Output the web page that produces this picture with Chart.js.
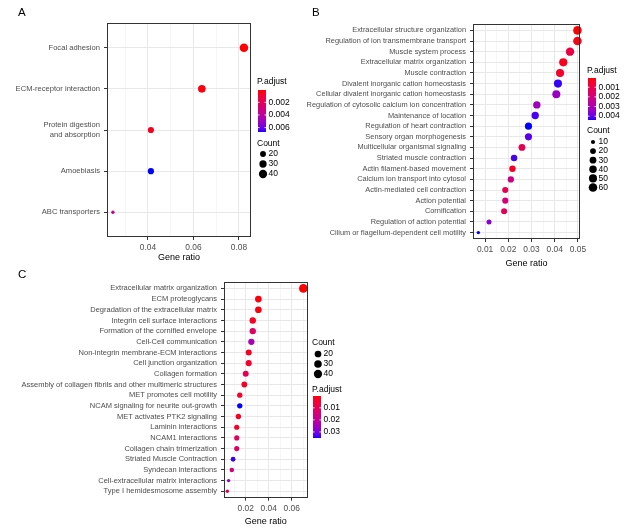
<!DOCTYPE html>
<html>
<head>
<meta charset="utf-8">
<script src="https://cdn.jsdelivr.net/npm/chart.js@4.4.0/dist/chart.umd.min.js"></script>
<style>
  html, body { margin: 0; padding: 0; background: #fff; }
  #wrap { position: relative; width: 624px; height: 530px; overflow: hidden; font-family: "Liberation Sans", Arial, sans-serif; }
  .panel { position: absolute; }
  .tag { position: absolute; font-size: 11.5px; color: #000; line-height: 1; }
</style>
</head>
<body>
<div id="wrap">
  <div class="panel" style="left:0;top:0"><canvas id="chartA" width="310" height="268"></canvas></div>
  <div class="panel" style="left:300px;top:0"><canvas id="chartB" width="324" height="272"></canvas></div>
  <div class="panel" style="left:0;top:265px"><canvas id="chartC" width="400" height="265"></canvas></div>
  <div class="tag" style="left:18px;top:7px">A</div>
  <div class="tag" style="left:312px;top:7px">B</div>
  <div class="tag" style="left:18px;top:269px">C</div>
</div>
<script>
// ---- panel A: KEGG ----
const termsA = ['Focal adhesion', 'ECM-receptor interaction', ['Protein digestion', 'and absorption'], 'Amoebiasis', 'ABC transporters'];
const ratioA = [0.0822, 0.0637, 0.0413, 0.0413, 0.0246];
const countA = [44, 34, 22, 22, 13];
const padjA = [0.00005, 0.0002, 0.0005, 0.0067, 0.0035];
const xLabelsA = ['0.04', '0.06', '0.08'];
const pLabelsA = ['0.002', '0.004', '0.006'];
const countLabelsA = [20, 30, 40];

// ---- panel B: GO ----
const termsB = ['Extracellular structure organization', 'Regulation of ion transmembrane transport', 'Muscle system process',
  'Extracellular matrix organization', 'Muscle contraction', 'Divalent inorganic cation homeostasis',
  'Cellular divalent inorganic cation homeostasis', 'Regulation of cytosolic calcium ion concentration',
  'Maintenance of location', 'Regulation of heart contraction', 'Sensory organ morphogenesis',
  'Multicellular organismal signaling', 'Striated muscle contraction', 'Actin filament-based movement',
  'Calcium ion transport into cytosol', 'Actin-mediated cell contraction', 'Action potential', 'Cornification',
  'Regulation of action potential', 'Cilium or flagellum-dependent cell motility'];
const ratioB = [0.0498, 0.0498, 0.0466, 0.0437, 0.0423, 0.0414, 0.0407, 0.0323, 0.0316, 0.0287,
  0.0287, 0.0259, 0.0225, 0.0218, 0.0211, 0.0187, 0.0187, 0.0182, 0.0117, 0.0071];
const countB = [60, 60, 56, 53, 51, 50, 49, 39, 38, 35, 35, 31, 27, 26, 25, 23, 23, 22, 14, 9];
const padjB = [0.00004, 0.0002, 0.0009, 0.0003, 0.0005, 0.0043, 0.0033, 0.0032, 0.0042, 0.0044,
  0.0041, 0.0012, 0.0042, 0.0004, 0.0022, 0.0012, 0.0019, 0.0013, 0.0036, 0.0044];
const xLabelsB = ['0.01', '0.02', '0.03', '0.04', '0.05'];
const pLabelsB = ['0.001', '0.002', '0.003', '0.004'];
const countLabelsB = [10, 20, 30, 40, 50, 60];

// ---- panel C: Reactome ----
const termsC = ['Extracellular matrix organization', 'ECM proteoglycans', 'Degradation of the extracellular matrix',
  'Integrin cell surface interactions', 'Formation of the cornified envelope', 'Cell-Cell communication',
  'Non-integrin membrane-ECM interactions', 'Cell junction organization', 'Collagen formation',
  'Assembly of collagen fibrils and other multimeric structures', 'MET promotes cell motility',
  'NCAM signaling for neurite out-growth', 'MET activates PTK2 signaling', 'Laminin interactions',
  'NCAM1 interactions', 'Collagen chain trimerization', 'Striated Muscle Contraction', 'Syndecan interactions',
  'Cell-extracellular matrix interactions', 'Type I hemidesmosome assembly'];
const ratioC = [0.0701, 0.0310, 0.0310, 0.0261, 0.0261, 0.0249, 0.0226, 0.0226, 0.0200, 0.0188,
  0.0148, 0.0148, 0.0136, 0.0122, 0.0122, 0.0122, 0.0090, 0.0079, 0.0051, 0.0040];
const countC = [45, 20, 20, 17, 17, 16, 14, 14, 13, 12, 9, 9, 9, 8, 8, 8, 6, 5, 3, 3];
const padjC = [0.0002, 0.001, 0.001, 0.003, 0.012, 0.024, 0.003, 0.004, 0.009, 0.003,
  0.004, 0.035, 0.003, 0.004, 0.011, 0.012, 0.034, 0.015, 0.027, 0.010];
const xLabelsC = ['0.02', '0.04', '0.06'];
const pLabelsC = ['0.01', '0.02', '0.03'];
const countLabelsC = [20, 30, 40];

const FONT = '"Liberation Sans", Arial, sans-serif';

// red -> blue gradient, interpolated in Lab like ggplot does
function toLin(c) { c /= 255; return c <= 0.04045 ? c / 12.92 : Math.pow((c + 0.055) / 1.055, 2.4); }
function fromLin(c) {
  c = c <= 0.0031308 ? 12.92 * c : 1.055 * Math.pow(c, 1 / 2.4) - 0.055;
  return Math.round(Math.max(0, Math.min(1, c)) * 255);
}
function rgbToLab(rgb) {
  const R = toLin(rgb[0]), G = toLin(rgb[1]), B = toLin(rgb[2]);
  const f = t => t > 0.008856 ? Math.cbrt(t) : 7.787 * t + 16 / 116;
  const X = f((0.4124 * R + 0.3576 * G + 0.1805 * B) / 0.95047);
  const Y = f(0.2126 * R + 0.7152 * G + 0.0722 * B);
  const Z = f((0.0193 * R + 0.1192 * G + 0.9505 * B) / 1.08883);
  return [116 * Y - 16, 500 * (X - Y), 200 * (Y - Z)];
}
function labToRgb(lab) {
  const fy = (lab[0] + 16) / 116, fx = lab[1] / 500 + fy, fz = fy - lab[2] / 200;
  const fi = t => { const t3 = t * t * t; return t3 > 0.008856 ? t3 : (t - 16 / 116) / 7.787; };
  const X = fi(fx) * 0.95047, Y = fi(fy), Z = fi(fz) * 1.08883;
  return [fromLin(3.2406 * X - 1.5372 * Y - 0.4986 * Z),
          fromLin(-0.9689 * X + 1.8758 * Y + 0.0415 * Z),
          fromLin(0.0557 * X - 0.2040 * Y + 1.0570 * Z)];
}
const LAB_LOW = rgbToLab([255, 0, 0]);
const LAB_HIGH = rgbToLab([0, 0, 255]);
function gradColor(t) {
  t = Math.max(0, Math.min(1, t));
  const c = labToRgb(LAB_LOW.map((v, i) => v + (LAB_HIGH[i] - v) * t));
  return 'rgb(' + c.join(',') + ')';
}

// panel border + the two ggplot-style legends
const dotLegend = {
  id: 'dotLegend',
  afterDraw(chart, args, o) {
    const ctx = chart.ctx, ca = chart.chartArea;
    ctx.save();
    ctx.strokeStyle = '#333333';
    ctx.lineWidth = 1;
    ctx.strokeRect(Math.round(ca.left) + 0.5, Math.round(ca.top) + 0.5,
      Math.round(ca.right - ca.left) - 1, Math.round(ca.bottom - ca.top) - 1);

    ctx.textBaseline = 'middle';
    ctx.textAlign = 'left';
    o.blocks.forEach(b => {
      ctx.fillStyle = '#000';
      ctx.font = '8.5px ' + FONT;
      ctx.fillText(b.title, o.x, b.y);
      if (b.kind === 'color') {
        const top = Math.round(b.y + b.gap), h = 42, bx = o.x + 1, bw = 8;
        for (let k = 0; k < h; k++) {
          ctx.fillStyle = gradColor((k + 0.5) / h);
          ctx.fillRect(bx, top + k, bw, 1);
        }
        b.labels.forEach(lab => {
          const y = top + (parseFloat(lab) - o.pmin) / (o.pmax - o.pmin) * h;
          ctx.strokeStyle = '#fff';
          ctx.lineWidth = 0.8;
          ctx.beginPath();
          ctx.moveTo(bx, y); ctx.lineTo(bx + 1.6, y);
          ctx.moveTo(bx + bw - 1.6, y); ctx.lineTo(bx + bw, y);
          ctx.stroke();
          ctx.fillStyle = '#000';
          ctx.fillText(lab, o.x + 11.5, y);
        });
      } else {
        b.labels.forEach((c, k) => {
          const y = b.y + b.first + k * b.step;
          ctx.fillStyle = '#000';
          ctx.beginPath();
          ctx.arc(o.x + 6, y, o.radiusOf(c), 0, Math.PI * 2);
          ctx.fill();
          ctx.fillText(String(c), o.x + 11.5, y);
        });
      }
    });
    ctx.restore();
  }
};

function makePanel(id, p) {
  const pmin = Math.min(...p.padj), pmax = Math.max(...p.padj);
  const cmin = Math.min(...p.count), cmax = Math.max(...p.count);
  const colorOf = v => gradColor((v - pmin) / (pmax - pmin));
  const radiusOf = c => 1.7 + 2.6 * Math.sqrt(Math.max(0, (c - cmin) / (cmax - cmin)));
  const isMajor = v => p.xLabels.some(l => Math.abs(parseFloat(l) - v) < 1e-9);
  const n = p.terms.length;

  return new Chart(document.getElementById(id), {
    type: 'scatter',
    data: {
      datasets: [{
        data: p.ratio.map((r, i) => ({ x: r, y: i })),
        pointRadius: p.count.map(radiusOf),
        pointHoverRadius: p.count.map(radiusOf),
        pointBackgroundColor: p.padj.map(colorOf),
        pointBorderWidth: 0,
        clip: false
      }]
    },
    options: {
      responsive: false,
      animation: false,
      events: [],
      layout: { padding: { top: p.g.top, right: p.g.right, left: 0, bottom: 0 } },
      plugins: {
        legend: { display: false },
        tooltip: { enabled: false },
        dotLegend: {
          x: p.g.legX, pmin, pmax, radiusOf,
          blocks: p.blocks
        }
      },
      scales: {
        x: {
          type: 'linear', min: p.xmin, max: p.xmax,
          afterFit: s => { s.height = p.g.xh; },
          ticks: {
            stepSize: p.step, includeBounds: false, autoSkip: false, maxRotation: 0,
            padding: 2.5, color: '#4d4d4d', font: { family: FONT, size: 8.4 },
            callback: v => isMajor(v) ? v.toFixed(2) : ''
          },
          grid: {
            color: c => isMajor(c.tick.value) ? '#e8e8e8' : '#f2f2f2',
            lineWidth: c => isMajor(c.tick.value) ? 1 : 0.7,
            tickLength: 3,
            tickColor: c => isMajor(c.tick.value) ? '#333333' : 'rgba(0,0,0,0)',
            tickWidth: 1
          },
          border: { display: false },
          title: {
            display: true, text: 'Gene ratio', color: '#000',
            font: { family: FONT, size: 9 }, padding: { top: 0, bottom: p.g.tb }
          }
        },
        y: {
          type: 'linear', reverse: true, min: -0.6, max: n - 0.4,
          afterFit: s => { s.width = p.g.yw; },
          afterBuildTicks: s => { s.ticks = p.terms.map((t, i) => ({ value: i })); },
          ticks: {
            autoSkip: false, padding: 4, color: '#4d4d4d',
            font: { family: FONT, size: p.g.yFont, lineHeight: 1.25 },
            callback: v => p.terms[v]
          },
          grid: { color: '#e8e8e8', lineWidth: 1, tickLength: 3, tickColor: '#333333', tickWidth: 1 },
          border: { display: false }
        }
      }
    },
    plugins: [dotLegend]
  });
}

makePanel('chartA', {
  terms: termsA, ratio: ratioA, count: countA, padj: padjA, xLabels: xLabelsA,
  xmin: 0.022, xmax: 0.0853, step: 0.01,
  g: { top: 23, right: 59, xh: 31, yw: 107, tb: 4.6, yFont: 7.6, legX: 257 },
  blocks: [
    { kind: 'color', title: 'P.adjust', y: 82, gap: 8, labels: pLabelsA },
    { kind: 'size', title: 'Count', y: 144, first: 10, step: 10, labels: countLabelsA }
  ]
});

makePanel('chartB', {
  terms: termsB, ratio: ratioB, count: countB, padj: padjB, xLabels: xLabelsB,
  xmin: 0.0048, xmax: 0.0509, step: 0.005,
  g: { top: 24, right: 44, xh: 33, yw: 173, tb: 3.3, yFont: 7.4, legX: 287 },
  blocks: [
    { kind: 'color', title: 'P.adjust', y: 71, gap: 7, labels: pLabelsB },
    { kind: 'size', title: 'Count', y: 131, first: 11, step: 9.1, labels: countLabelsB }
  ]
});

makePanel('chartC', {
  terms: termsC, ratio: ratioC, count: countC, padj: padjC, xLabels: xLabelsC,
  xmin: 0.0011, xmax: 0.0739, step: 0.01,
  g: { top: 17, right: 92.3, xh: 32.3, yw: 224, tb: 2.6, yFont: 7.5, legX: 312 },
  blocks: [
    { kind: 'size', title: 'Count', y: 78, first: 11, step: 10, labels: countLabelsC },
    { kind: 'color', title: 'P.adjust', y: 125, gap: 6, labels: pLabelsC }
  ]
});
</script>
</body>
</html>
